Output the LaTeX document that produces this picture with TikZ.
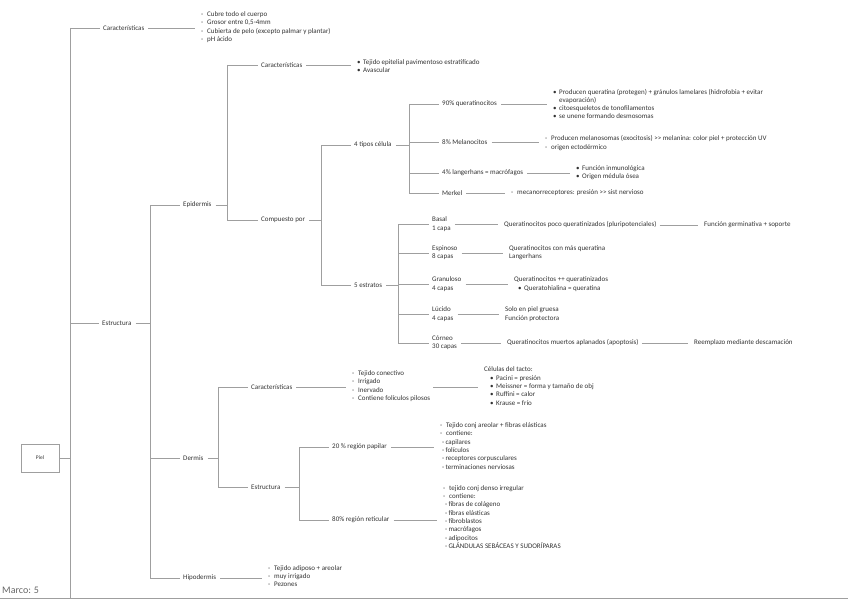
\documentclass[tikz,border=0pt]{standalone}
\usepackage{fontspec}
\setmainfont{Carlito}
\newcommand\ft{\fontsize{7}{8.3}\selectfont}
\newcommand\bu{\makebox[6pt][l]{•}}
\newcommand\da{\makebox[6pt][l]{-}}
\newcommand\bh{\hspace*{6pt}}
\tikzset{
  ln/.style={draw=gray!75, line width=0.6pt},
  lb/.style={anchor=west, inner sep=1pt, font=\ft, text=black!80, align=left},
  ls/.style={anchor=west, inner sep=0pt, font=\ft, text=black!80, align=left},
  lk/.style={ln, shorten <=3pt, shorten >=6pt},
  bs/.style={ln, shorten >=2pt},
}
\newcommand\lnk[2]{\draw[lk] (#1.east) -- (#1.east -| #2.west);}
\newcommand\tobus[2]{\draw[bs] (#1.west -| #2) -- (#1.west);}
\newcommand\frombus[2]{\draw[ln, shorten <=3pt] (#1.east) -- (#1.east -| #2);}
\begin{document}
\begin{tikzpicture}[x=1pt,y=-1pt]
\useasboundingbox (0,0) rectangle (848,599);

% ---------- root
\node[draw=gray!75, line width=0.6pt, minimum width=38pt, minimum height=28pt, inner sep=0pt,
      font=\fontsize{5.5}{6}\selectfont, text=black!80] (piel) at (40,458) {Piel};
\coordinate (b0) at (70,0);
\coordinate (frameL) at (0,598);
\coordinate (frameR) at (848,598);
\node[anchor=west, inner sep=0pt, font=\fontsize{10}{11}\selectfont, text=black!60] (marco) at (2,590) {Marco: 5};

% ---------- level 1
\node[lb] (car) at (102,28) {Características};
\node[ls] (carl) at (201,27) {\da Cubre todo el cuerpo\\ \da Grosor entre 0,5-4mm\\ \da Cubierta de pelo (excepto palmar y plantar)\\ \da pH ácido};
\node[lb] (est) at (101,323) {Estructura};

% ---------- Estructura children
\coordinate (b1) at (150,0);
\node[lb] (epi) at (182,205) {Epidermis};
\node[lb] (der) at (182,458) {Dermis};
\node[lb] (hip) at (182,578) {Hipodermis};
\node[ls] (hipl) at (268,576) {\da Tejido adiposo + areolar\\ \da muy irrigado\\ \da Pezones};

% ---------- Epidermis
\coordinate (b2) at (227,0);
\node[lb] (ecar) at (260,65) {Características};
\node[ls] (ecarl) at (357,66) {\bu Tejido epitelial pavimentoso estratificado\\ \bu Avascular};
\node[lb] (ecom) at (260,220) {Compuesto por};

\coordinate (b3) at (321,0);
\node[lb] (tip) at (353,145) {4 tipos célula};
\node[lb] (estr) at (353,285) {5 estratos};

% 4 tipos
\coordinate (b4) at (409,0);
\node[lb] (t1) at (441,104) {90\% queratinocitos};
\node[ls] (t1l) at (553,104) {\bu Producen queratina (protegen) + gránulos lamelares (hidrofobia + evitar\\ \bh evaporación)\\ \bu citoesqueletos de tonofilamentos\\ \bu se unene formando desmosomas};
\node[lb] (t2) at (441,142) {8\% Melanocitos};
\node[ls] (t2l) at (545,143) {\da Producen melanosomas (exocitosis) >{}> melanina: color piel + protección UV\\ \da origen ectodérmico};
\node[lb] (t3) at (441,173) {4\% langerhans = macrófagos};
\node[ls] (t3l) at (576,173) {\bu Función inmunológica\\ \bu Origen médula ósea};
\node[lb] (t4) at (441,193) {Merkel};
\node[ls] (t4l) at (511,193) {\da mecanorreceptores: presión >{}> sist nervioso};

% 5 estratos
\coordinate (b5) at (398,0);
\node[lb] (s1) at (431,224) {Basal\\1 capa};
\node[ls] (s1a) at (504,225) {Queratinocitos poco queratinizados (pluripotenciales)};
\node[ls] (s1b) at (704,225) {Función germinativa + soporte};
\node[lb] (s2) at (431,253) {Espinoso\\8 capas};
\node[ls] (s2a) at (509,253) {Queratinocitos con más queratina\\Langerhans};
\node[lb] (s3) at (431,284) {Granuloso\\4 capas};
\node[ls] (s3a) at (514,284) {Queratinocitos ++ queratinizados\\ \hspace*{4pt}\bu Queratohialina = queratina};
\node[lb] (s4) at (431,314) {Lúcido\\4 capas};
\node[ls] (s4a) at (505,314) {Solo en piel gruesa\\Función protectora};
\node[lb] (s5) at (431,343) {Córneo\\30 capas};
\node[ls] (s5a) at (507,343) {Queratinocitos muertos aplanados (apoptosis)};
\node[ls] (s5b) at (694,343) {Reemplazo mediante descamación};

% ---------- Dermis
\coordinate (b6) at (218,0);
\node[lb] (dcar) at (250,387) {Características};
\node[ls] (dcarl) at (352,386) {\da Tejido conectivo\\ \da Irrigado\\ \da Inervado\\ \da Contiene folículos pilosos};
\node[ls] (tacto) at (484,386) {Células del tacto:\\ \hspace*{6pt}\bu Pacini = presión\\ \hspace*{6pt}\bu Meissner = forma y tamaño de obj\\ \hspace*{6pt}\bu Ruffini = calor\\ \hspace*{6pt}\bu Krause = frío};
\node[lb] (dest) at (250,487) {Estructura};

\coordinate (b7) at (299,0);
\node[lb] (pap) at (331,447) {20 \% región papilar};
\node[ls] (papl) at (440,446) {\da Tejido conj areolar + fibras elásticas\\ \da contiene:\\ \hspace*{2pt}-\,capilares\\ \hspace*{2pt}-\,folículos\\ \hspace*{2pt}-\,receptores corpusculares\\ \hspace*{2pt}-\,terminaciones nerviosas};
\node[lb] (ret) at (331,520) {80\% región reticular};
\node[ls] (retl) at (443,517) {\da tejido conj denso irregular\\ \da contiene:\\ \hspace*{2pt}-\,fibras de colágeno\\ \hspace*{2pt}-\,fibras elásticas\\ \hspace*{2pt}-\,fibroblastos\\ \hspace*{2pt}-\,macrófagos\\ \hspace*{2pt}-\,adipocitos\\ \hspace*{2pt}-\,GLÁNDULAS SEBÁCEAS Y SUDORÍPARAS};

% ================= connectors
\draw[ln] (frameL) -- (frameR);
% root bus
\draw[ln] (b0 |- car.west) -- (b0 |- frameL);
\draw[ln] (piel.east) -- (piel.east -| b0);
\tobus{car}{b0} \lnk{car}{carl}
\tobus{est}{b0} \frombus{est}{b1}
% Estructura bus
\draw[ln] (b1 |- epi.west) -- (b1 |- hip.west);
\tobus{epi}{b1} \tobus{der}{b1} \tobus{hip}{b1}
\lnk{hip}{hipl}
% Epidermis
\frombus{epi}{b2}
\draw[ln] (b2 |- ecar.west) -- (b2 |- ecom.west);
\tobus{ecar}{b2} \lnk{ecar}{ecarl}
\tobus{ecom}{b2} \frombus{ecom}{b3}
\draw[ln] (b3 |- tip.west) -- (b3 |- estr.west);
\tobus{tip}{b3} \tobus{estr}{b3}
% 4 tipos
\frombus{tip}{b4}
\draw[ln] (b4 |- t1.west) -- (b4 |- t4.west);
\tobus{t1}{b4} \lnk{t1}{t1l}
\tobus{t2}{b4} \lnk{t2}{t2l}
\tobus{t3}{b4} \lnk{t3}{t3l}
\tobus{t4}{b4} \lnk{t4}{t4l}
% 5 estratos
\frombus{estr}{b5}
\draw[ln] (b5 |- s1.west) -- (b5 |- s5.west);
\tobus{s1}{b5} \lnk{s1}{s1a} \lnk{s1a}{s1b}
\tobus{s2}{b5} \lnk{s2}{s2a}
\tobus{s3}{b5} \lnk{s3}{s3a}
\tobus{s4}{b5} \lnk{s4}{s4a}
\tobus{s5}{b5} \lnk{s5}{s5a} \lnk{s5a}{s5b}
% Dermis
\frombus{der}{b6}
\draw[ln] (b6 |- dcar.west) -- (b6 |- dest.west);
\tobus{dcar}{b6} \lnk{dcar}{dcarl}
\draw[lk] (dcarl.east |- dcar.east) -- (dcar.east -| tacto.west);
\tobus{dest}{b6} \frombus{dest}{b7}
\draw[ln] (b7 |- pap.west) -- (b7 |- ret.west);
\tobus{pap}{b7} \lnk{pap}{papl}
\tobus{ret}{b7} \lnk{ret}{retl}
\end{tikzpicture}
\end{document}
